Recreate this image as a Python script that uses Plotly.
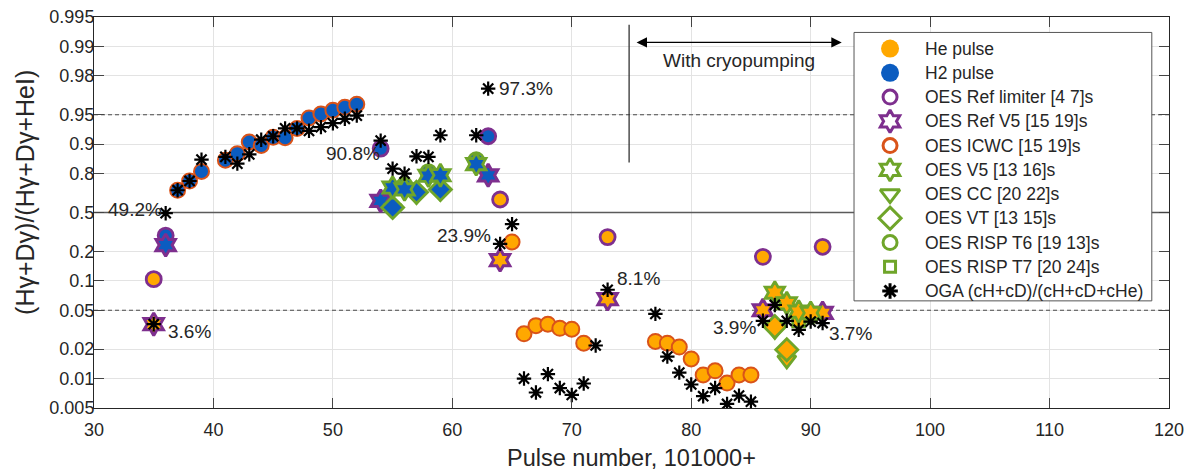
import math
import plotly.graph_objects as go

# ---------------- data ----------------
icwc_x = [37, 38, 39, 41, 42, 43, 44, 45, 46, 47, 48, 49, 50, 51, 52,
          65, 66, 67, 68, 69, 70, 71, 77, 78, 79, 80, 81, 82, 83, 84, 85]
icwc_p = [0.704, 0.762, 0.81, 0.854, 0.875, 0.905, 0.897, 0.915, 0.914, 0.931, 0.946, 0.951, 0.955, 0.958, 0.961,
          0.25, 0.0287, 0.0348, 0.036, 0.0327, 0.032, 0.023, 0.024, 0.023, 0.021, 0.0159, 0.0109, 0.012, 0.009, 0.0109, 0.0109]
icwc_gas = ["H2"] * 15 + ["He"] * 16

reflim_x = [35, 36, 54, 63, 64, 73, 86, 91]
reflim_p = [0.104, 0.29, 0.889, 0.917, 0.632, 0.28, 0.176, 0.223]
reflim_gas = ["He", "H2", "H2", "H2", "He", "He", "He", "He"]

refv5_x = [35, 36, 54, 63, 64, 73, 86, 91]
refv5_p = [0.036, 0.232, 0.62, 0.792, 0.163, 0.065, 0.050, 0.047]
refv5_gas = ["He", "H2", "H2", "H2", "He", "He", "He", "He"]

v5_x = [55, 56, 58, 59, 62, 87, 88, 89, 90]
v5_p = [0.722, 0.71, 0.79, 0.792, 0.84, 0.0757, 0.059, 0.0484, 0.047]
v5_gas = ["H2", "H2", "H2", "H2", "H2", "He", "He", "He", "He"]

cc_x = [55, 57, 59, 87, 88]
cc_p = [0.54, 0.665, 0.69, 0.031, 0.0155]
cc_gas = ["H2", "H2", "H2", "He", "He"]

vt_x = [55, 57, 59, 87, 88]
vt_p = [0.555, 0.69, 0.709, 0.034, 0.0197]
vt_gas = ["H2", "H2", "H2", "He", "He"]

t6_x = [56, 58, 62, 90]
t6_p = [0.737, 0.807, 0.854, 0.044]
t6_gas = ["H2", "H2", "H2", "He"]

t7_x = [89]
t7_p = [0.039]
t7_gas = ["He"]

oga_x = [35, 36, 37, 38, 39, 41, 42, 43, 44, 45, 46, 47, 48, 49, 50, 51, 52,
         54, 55, 56, 57, 58, 59, 62, 63, 64, 65, 66, 67, 68, 69, 70, 71, 72, 73,
         77, 78, 79, 80, 81, 82, 83, 84, 85, 86, 87, 88, 89, 90, 91]
oga_p = [0.036, 0.492, 0.704, 0.762, 0.856, 0.865, 0.842, 0.873, 0.91, 0.917, 0.931, 0.931, 0.927, 0.933, 0.939, 0.945, 0.949,
         0.908, 0.822, 0.80, 0.867, 0.865, 0.919, 0.919, 0.973, 0.239, 0.38, 0.01, 0.0072, 0.0111, 0.008, 0.0068, 0.0089, 0.0218, 0.081,
         0.0459, 0.0168, 0.0115, 0.0087, 0.0066, 0.008, 0.0055, 0.0067, 0.0058, 0.039, 0.0566, 0.039, 0.0315, 0.0383, 0.037]

y_ticks = [0.005, 0.01, 0.02, 0.05, 0.1, 0.2, 0.5, 0.8, 0.9, 0.95, 0.98, 0.99, 0.995]
x_ticks = [30, 40, 50, 60, 70, 80, 90, 100, 110, 120]
x_range = [30, 120]

# reference levels drawn across the whole axis
solid_level = 0.5
dashed_levels = [0.95, 0.05]

pct_labels = ["49.2%", "90.8%", "97.3%", "23.9%", "8.1%", "3.9%", "3.7%", "3.6%"]
pct_x = [33.4, 51.7, 66.2, 61.0, 75.6, 83.6, 93.3, 38.0]
pct_p = [0.536, 0.874, 0.973, 0.288, 0.106, 0.033, 0.029, 0.030]

cryo_line_x = 74.8
cryo_line_p = [0.846, 0.994]
cryo_arrow_x = [75.3, 92.6]
cryo_arrow_p = 0.9909
cryo_text_x = 84.0
cryo_text_p = 0.986

legend_names = ["He pulse", "H2 pulse", "OES Ref limiter [4 7]s", "OES Ref V5 [15 19]s",
                "OES ICWC [15 19]s", "OES V5 [13 16]s", "OES CC [20 22]s", "OES VT [13 15]s",
                "OES RISP T6 [19 13]s", "OES RISP T7 [20 24]s", "OGA (cH+cD)/(cH+cD+cHe)"]

x_title = "Pulse number, 101000+"
y_title = "(Hγ+Dγ)/(Hγ+Dγ+HeI)"

# ---------------- styles ----------------
HE = "#FFA800"
H2 = "#0B5CC0"
PURPLE = "#7E2F8E"
ORED = "#D95319"
GREEN = "#6FA52A"
TXT = "#262626"
FONT = "Liberation Sans, Arial, sans-serif"

# legend styles: (symbol, size, fill, edge, line width)
legend_styles = [
    ("circle", 18, HE, HE, 0),
    ("circle", 18, H2, H2, 0),
    ("circle", 14, "white", PURPLE, 3),
    ("hexagram", 17, "white", PURPLE, 3),
    ("circle", 14, "white", ORED, 3),
    ("hexagram", 17, "white", GREEN, 3),
    ("triangle-down", 17, "white", GREEN, 3),
    ("diamond", 17, "white", GREEN, 3),
    ("circle", 14, "white", GREEN, 3),
    ("square", 11, "white", GREEN, 3),
    ("asterisk-open", 13, "black", "black", 3),
]


def f(p):
    """Symmetric log-odds-like scale used by the original axis."""
    if p <= 0.5:
        return math.log10(2 * p)
    return -math.log10(2 * (1 - p))


def fills(gas):
    return [HE if g == "He" else H2 for g in gas]


fig = go.Figure()

# reference lines (traces, so they sit above the grid but below the markers)
fig.add_trace(go.Scatter(x=x_range, y=[f(solid_level)] * 2, mode="lines", showlegend=False,
                         hoverinfo="skip", line=dict(color="#5A5A5A", width=1.4)))
for lv in dashed_levels:
    fig.add_trace(go.Scatter(x=x_range, y=[f(lv)] * 2, mode="lines", showlegend=False,
                             hoverinfo="skip", line=dict(color="#4A4A4A", width=1, dash="4px,3px")))
fig.add_trace(go.Scatter(x=[cryo_line_x] * 2, y=[f(p) for p in cryo_line_p], mode="lines",
                         showlegend=False, hoverinfo="skip", line=dict(color="#333333", width=1.3)))


def add_series(name, xs, ps, gas, symbol, size, edge, lw):
    fig.add_trace(go.Scatter(
        x=xs, y=[f(p) for p in ps], mode="markers", showlegend=False, name=name,
        marker=dict(symbol=symbol, size=size, color=fills(gas), opacity=1,
                    line=dict(color=edge, width=lw))))


add_series(legend_names[4], icwc_x, icwc_p, icwc_gas, "circle", 15, ORED, 2)
add_series(legend_names[2], reflim_x, reflim_p, reflim_gas, "circle", 15, PURPLE, 2.8)
add_series(legend_names[3], refv5_x, refv5_p, refv5_gas, "hexagram", 17, PURPLE, 3)
add_series(legend_names[6], cc_x, cc_p, cc_gas, "triangle-down", 16, GREEN, 2.8)
add_series(legend_names[7], vt_x, vt_p, vt_gas, "diamond", 17, GREEN, 2.8)
add_series(legend_names[8], t6_x, t6_p, t6_gas, "circle", 15, GREEN, 2.8)
add_series(legend_names[9], t7_x, t7_p, t7_gas, "square", 12, GREEN, 2.8)
add_series(legend_names[5], v5_x, v5_p, v5_gas, "hexagram", 17, GREEN, 2.8)

fig.add_trace(go.Scatter(x=oga_x, y=[f(p) for p in oga_p], mode="markers", showlegend=False,
                         name=legend_names[10],
                         marker=dict(symbol="asterisk-open", size=12, color="black", opacity=1,
                                     line=dict(color="black", width=2.2))))

# ---------------- legend box (drawn on an overlay axis in paper-like units) ----------------
LEG_X0, LEG_X1, LEG_Y0, LEG_Y1 = 0.707, 0.984, 0.274, 0.9605
ROW0, ROWSTEP = 0.9192, 0.0620
SYM_X, TXT_X = 0.7405, 0.7712

fig.add_trace(go.Scatter(
    x=[LEG_X0, LEG_X1, LEG_X1, LEG_X0, LEG_X0], y=[LEG_Y0, LEG_Y0, LEG_Y1, LEG_Y1, LEG_Y0],
    xaxis="x2", yaxis="y2", mode="lines", fill="toself", fillcolor="white",
    line=dict(color="#555555", width=1), showlegend=False, hoverinfo="skip"))

leg_rows_y = [ROW0 - i * ROWSTEP for i in range(len(legend_names))]
fig.add_trace(go.Scatter(
    x=[SYM_X] * len(legend_names), y=leg_rows_y, xaxis="x2", yaxis="y2", mode="markers",
    showlegend=False, hoverinfo="skip",
    marker=dict(symbol=[s[0] for s in legend_styles], size=[s[1] for s in legend_styles],
                color=[s[2] for s in legend_styles], opacity=1,
                line=dict(color=[s[3] for s in legend_styles], width=[s[4] for s in legend_styles]))))

annotations = []
for t, xx, pp in zip(pct_labels, pct_x, pct_p):
    annotations.append(dict(x=xx, y=f(pp), text=t, showarrow=False, xanchor="center", yanchor="middle",
                            font=dict(size=19, color=TXT, family=FONT)))
annotations.append(dict(x=cryo_arrow_x[1], y=f(cryo_arrow_p), ax=cryo_arrow_x[0], ay=f(cryo_arrow_p),
                        axref="x", ayref="y", xref="x", yref="y", text="", showarrow=True,
                        arrowhead=2, startarrowhead=2, arrowside="end+start", arrowsize=1.6,
                        startarrowsize=1.6, arrowwidth=1.3, arrowcolor="black"))
annotations.append(dict(x=cryo_text_x, y=f(cryo_text_p), text="With cryopumping", showarrow=False,
                        xanchor="center", yanchor="middle", font=dict(size=19, color=TXT, family=FONT)))
for name, yy in zip(legend_names, leg_rows_y):
    annotations.append(dict(x=TXT_X, y=yy, xref="x2", yref="y2", text=name, showarrow=False,
                            xanchor="left", yanchor="middle", font=dict(size=17.5, color=TXT, family=FONT)))
# axis titles
annotations.append(dict(x=0.5, y=0, xref="paper", yref="paper", yshift=-50, text=x_title,
                        showarrow=False, xanchor="center", yanchor="middle",
                        font=dict(size=23.5, color=TXT, family=FONT)))
annotations.append(dict(x=0, y=0.55, xref="paper", yref="paper", xshift=-69, text=y_title,
                        textangle=-90, showarrow=False, xanchor="center", yanchor="middle",
                        font=dict(size=25, color=TXT, family=FONT)))

axis_common = dict(ticks="inside", ticklen=10, showline=True, linecolor=TXT, linewidth=1,
                   mirror="allticks", automargin=False, showgrid=True, gridcolor="#E3E3E3",
                   zeroline=False, tickfont=dict(size=18, family=FONT, color=TXT),
                   ticklabeloverflow="allow")

# The page body adds an 8 px margin; the figure is sized so the plot area lands where intended.
fig.update_layout(
    width=1184, height=463,
    margin=dict(l=86, r=23, t=8.5, b=62.5, pad=0),
    paper_bgcolor="white", plot_bgcolor="white",
    font=dict(family=FONT, size=18, color=TXT),
    annotations=annotations, showlegend=False,
    xaxis=dict(domain=[0, 1], range=x_range, tickvals=x_ticks, anchor="y",
               ticklabelstandoff=5, **axis_common),
    yaxis=dict(domain=[0, 1], range=[-2, 2], tickvals=[f(p) for p in y_ticks],
               ticktext=[str(p) for p in y_ticks], anchor="x", ticklabelstandoff=-5,
               **axis_common),
    xaxis2=dict(domain=[0, 1], range=[0, 1], overlaying="x", anchor="y2", visible=False,
                fixedrange=True, automargin=False),
    yaxis2=dict(domain=[0, 1], range=[0, 1], overlaying="y", anchor="x2", visible=False,
                fixedrange=True, automargin=False),
)

fig.write_html("out.html")
